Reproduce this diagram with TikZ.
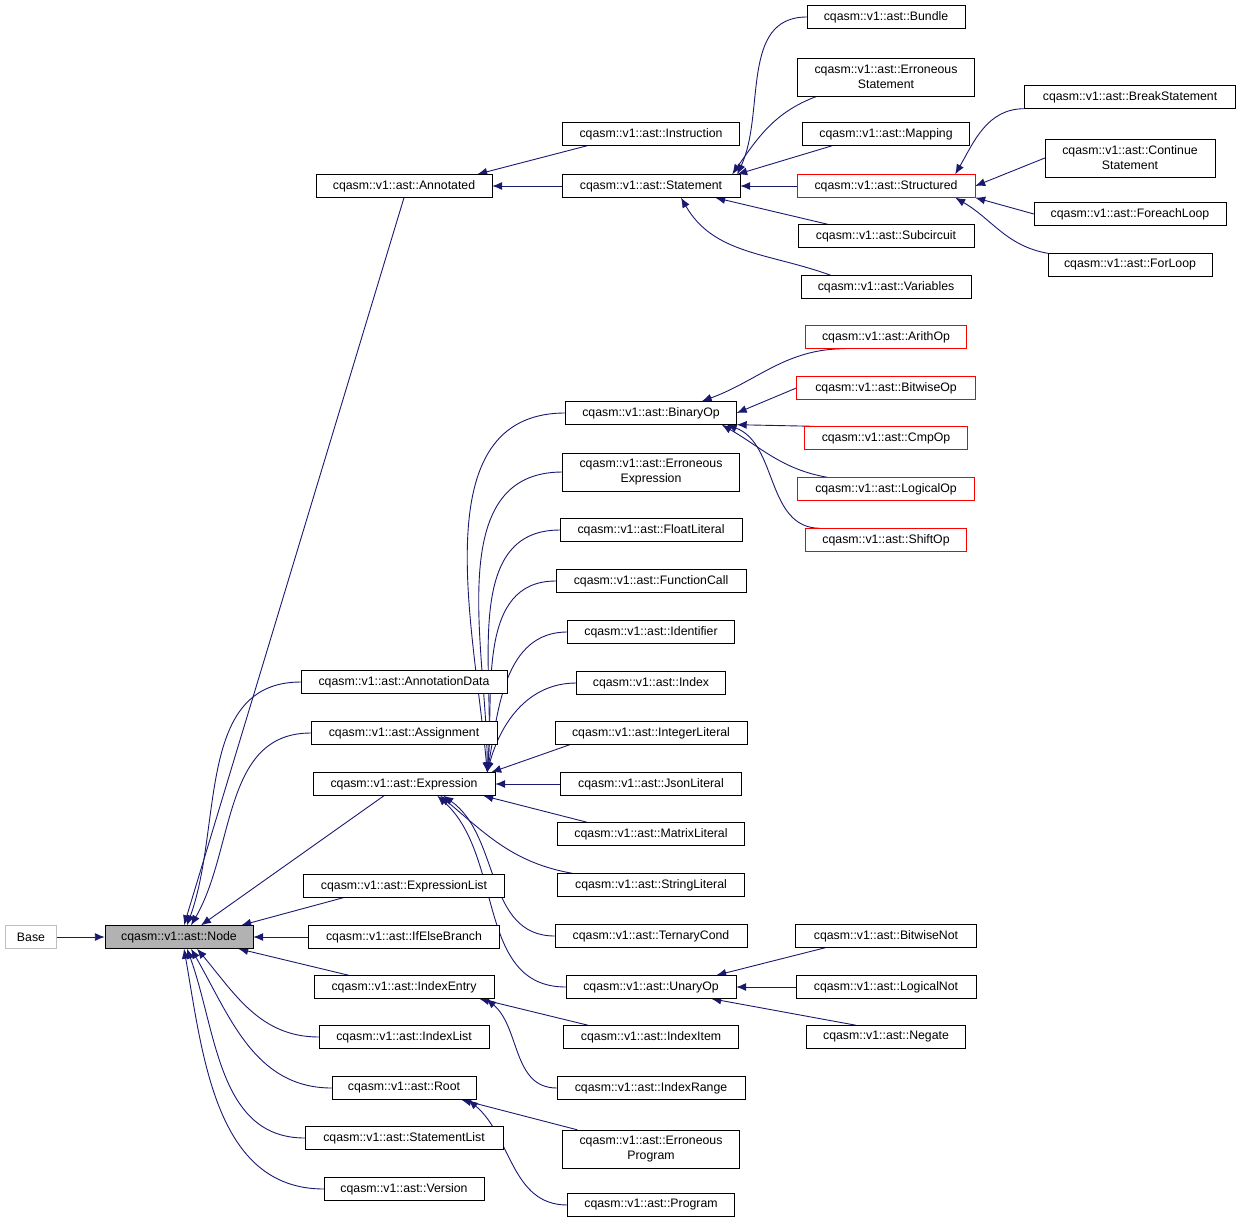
\documentclass[tikz,border=0pt]{standalone}
\usepackage{fontspec}
\setmainfont{Liberation Sans}
\usetikzlibrary{positioning,arrows.meta}
\pgfdeclarelayer{background}
\pgfsetlayers{background,main}
\definecolor{edgeblue}{RGB}{25,25,112}
\tikzset{
  cls/.style={draw,fill=white,rectangle,inner sep=0pt,minimum height=23pt,align=center,
    font=\fontsize{12.3}{15}\selectfont},
  ext/.style={cls,draw=red},
  root/.style={cls,fill=gray!60},
  base/.style={cls,draw=gray!50},
  inh/.style={{Latex[length=10pt,width=8pt]}-,draw=edgeblue,line width=0.9pt}
}
\begin{document}
\begin{tikzpicture}[x=1pt,y=-1pt]
  \useasboundingbox (0,0) rectangle (1241,1225);
  % first two columns
  \node (base) [base,minimum width=51pt] at (31,937) {Base};
  \node (node) [root,minimum width=148pt] at (179,937) {cqasm::v1::ast::Node};
  \node (annotated) [cls,minimum width=176pt] at (404,186) {cqasm::v1::ast::Annotated};
  \node (annodata) [cls,minimum width=206pt] at (404,682) {cqasm::v1::ast::AnnotationData};
  \node (assign) [cls,minimum width=186pt] at (404,733) {cqasm::v1::ast::Assignment};
  \node (expr) [cls,minimum width=182pt] at (404,784) {cqasm::v1::ast::Expression};
  \node (exprlist) [cls,minimum width=201pt] at (404,886) {cqasm::v1::ast::ExpressionList};
  \node (ifelse) [cls,minimum width=191pt] at (404,937) {cqasm::v1::ast::IfElseBranch};
  \node (idxentry) [cls,minimum width=180pt] at (404,987) {cqasm::v1::ast::IndexEntry};
  \node (idxlist) [cls,minimum width=170pt] at (404,1037) {cqasm::v1::ast::IndexList};
  \node (root) [cls,minimum width=144pt] at (404,1088) {cqasm::v1::ast::Root};
  \node (stmtlist) [cls,minimum width=198pt] at (404,1138) {cqasm::v1::ast::StatementList};
  \node (version) [cls,minimum width=160pt] at (404,1189) {cqasm::v1::ast::Version};
  % third column
  \node (instr) [cls,minimum width=177pt] at (651,134) {cqasm::v1::ast::Instruction};
  \node (stmt) [cls,minimum width=178pt] at (651,186) {cqasm::v1::ast::Statement};
  \node (binop) [cls,minimum width=171pt] at (651,413) {cqasm::v1::ast::BinaryOp};
  \node (errexpr) [cls,minimum width=177pt,minimum height=38pt] at (651,472) {cqasm::v1::ast::Erroneous\\Expression};
  \node (float) [cls,minimum width=182pt] at (651,530) {cqasm::v1::ast::FloatLiteral};
  \node (fcall) [cls,minimum width=190pt] at (651,581) {cqasm::v1::ast::FunctionCall};
  \node (ident) [cls,minimum width=167pt] at (651,632) {cqasm::v1::ast::Identifier};
  \node (index) [cls,minimum width=149pt] at (651,683) {cqasm::v1::ast::Index};
  \node (intlit) [cls,minimum width=192pt] at (651,733) {cqasm::v1::ast::IntegerLiteral};
  \node (json) [cls,minimum width=181pt] at (651,784) {cqasm::v1::ast::JsonLiteral};
  \node (matrix) [cls,minimum width=187pt] at (651,834) {cqasm::v1::ast::MatrixLiteral};
  \node (string) [cls,minimum width=187pt] at (651,885) {cqasm::v1::ast::StringLiteral};
  \node (ternary) [cls,minimum width=192pt] at (651,936) {cqasm::v1::ast::TernaryCond};
  \node (unop) [cls,minimum width=170pt] at (651,987) {cqasm::v1::ast::UnaryOp};
  \node (idxitem) [cls,minimum width=175pt] at (651,1037) {cqasm::v1::ast::IndexItem};
  \node (idxrange) [cls,minimum width=188pt] at (651,1088) {cqasm::v1::ast::IndexRange};
  \node (errprog) [cls,minimum width=177pt,minimum height=38pt] at (651,1149) {cqasm::v1::ast::Erroneous\\Program};
  \node (prog) [cls,minimum width=167pt] at (651,1205) {cqasm::v1::ast::Program};
  % fourth column
  \node (bundle) [cls,minimum width=158pt] at (886,17) {cqasm::v1::ast::Bundle};
  \node (errstmt) [cls,minimum width=177pt,minimum height=38pt] at (886,77) {cqasm::v1::ast::Erroneous\\Statement};
  \node (mapping) [cls,minimum width=167pt] at (886,134) {cqasm::v1::ast::Mapping};
  \node (struct) [ext,minimum width=178pt] at (886,186) {cqasm::v1::ast::Structured};
  \node (subcirc) [cls,minimum width=176pt] at (886,236) {cqasm::v1::ast::Subcircuit};
  \node (vars) [cls,minimum width=170pt] at (886,287) {cqasm::v1::ast::Variables};
  \node (arith) [ext,minimum width=161pt] at (886,337) {cqasm::v1::ast::ArithOp};
  \node (bitop) [ext,minimum width=179pt] at (886,388) {cqasm::v1::ast::BitwiseOp};
  \node (cmp) [ext,minimum width=163pt] at (886,438) {cqasm::v1::ast::CmpOp};
  \node (logop) [ext,minimum width=177pt] at (886,489) {cqasm::v1::ast::LogicalOp};
  \node (shift) [ext,minimum width=161pt] at (886,540) {cqasm::v1::ast::ShiftOp};
  \node (bitnot) [cls,minimum width=181pt] at (886,936) {cqasm::v1::ast::BitwiseNot};
  \node (lognot) [cls,minimum width=180pt] at (886,987) {cqasm::v1::ast::LogicalNot};
  \node (negate) [cls,minimum width=159pt] at (886,1037) {cqasm::v1::ast::Negate};
  % fifth column
  \node (break) [cls,minimum width=211pt] at (1130,97) {cqasm::v1::ast::BreakStatement};
  \node (cont) [cls,minimum width=170pt,minimum height=38pt] at (1130,158) {cqasm::v1::ast::Continue\\Statement};
  \node (foreach) [cls,minimum width=192pt] at (1130,214) {cqasm::v1::ast::ForeachLoop};
  \node (forloop) [cls,minimum width=164pt] at (1130,265) {cqasm::v1::ast::ForLoop};

  \begin{pgfonlayer}{background}
  % inheritance of Node
  \draw [inh] (node) -- (base);
  \draw [inh] ([xshift=5pt]node.north) -- (annotated.south);
  \draw [inh] ([xshift=8pt]node.north) to [out=70,in=180] (annodata.west);
  \draw [inh] ([xshift=12pt]node.north) to [out=60,in=180] (assign.west);
  \draw [inh] ([xshift=22pt]node.north) -- ([xshift=-20pt]expr.south);
  \draw [inh] ([xshift=-12pt]node.north east) -- ([xshift=40pt]exprlist.south west);
  \draw [inh] (node) -- (ifelse);
  \draw [inh] ([xshift=-15pt]node.south east) -- ([xshift=35pt]idxentry.north west);
  \draw [inh] ([xshift=18pt]node.south) to [out=-50,in=180] (idxlist.west);
  \draw [inh] ([xshift=12pt]node.south) to [out=-60,in=180] (root.west);
  \draw [inh] ([xshift=8pt]node.south) to [out=-70,in=180] (stmtlist.west);
  \draw [inh] ([xshift=5pt]node.south) to [out=-80,in=180] (version.west);

  % Annotated and Statement
  \draw [inh] ([xshift=-15pt]annotated.north east) -- ([xshift=25pt]instr.south west);
  \draw [inh] (annotated) -- (stmt);
  \draw [inh] ([xshift=-3pt]stmt.north east) to [out=65,in=180] (bundle.west);
  \draw [inh] ([xshift=-8pt]stmt.north east) to [out=55,in=200] ([xshift=20pt]errstmt.south west);
  \draw [inh] ([xshift=-3pt]stmt.north east) -- ([xshift=30pt]mapping.south west);
  \draw [inh] (stmt) -- (struct);
  \draw [inh] ([xshift=-25pt]stmt.south east) -- ([xshift=30pt]subcirc.north west);
  \draw [inh] ([xshift=30pt]stmt.south) to [out=-60,in=160] ([xshift=30pt]vars.north west);
  \draw [inh] ([xshift=-20pt]struct.north east) to [out=60,in=180] (break.south west);
  \draw [inh] (struct.east) -- (cont.west);
  \draw [inh] (struct.south east) -- (foreach.west);
  \draw [inh] ([xshift=-20pt]struct.south east) to [out=-30,in=170] (forloop.north west);

  % Expression
  \foreach \c/\o in {binop/95,errexpr/90,float/85,fcall/85,ident/80,index/75} {
    \draw [inh] ([xshift=-8pt]expr.north east) to [out=\o,in=180] (\c.west);
  }
  \draw [inh] ([xshift=-4pt]expr.north east) -- ([xshift=15pt]intlit.south west);
  \draw [inh] (expr) -- (json);
  \draw [inh] ([xshift=-12pt]expr.south east) -- ([xshift=30pt]matrix.north west);
  \draw [inh] ([xshift=-55pt]expr.south east) to [out=-40,in=170] ([xshift=15pt]string.north west);
  \draw [inh] ([xshift=-52pt]expr.south east) to [out=-35,in=180] (ternary.west);
  \draw [inh] ([xshift=-58pt]expr.south east) to [out=-42,in=180] (unop.west);
  \draw [inh] ([xshift=-35pt]binop.north east) to [out=20,in=180] ([xshift=40pt]arith.south west);
  \draw [inh] (binop.east) -- (bitop.west);
  \draw [inh] (binop.south east) -- ([xshift=10pt]cmp.north west);
  \draw [inh] ([xshift=-15pt]binop.south east) to [out=-30,in=170] ([xshift=30pt]logop.north west);
  \draw [inh] ([xshift=-10pt]binop.south east) to [out=-20,in=180] ([xshift=15pt]shift.north west);
  \draw [inh] ([xshift=-20pt]unop.north east) -- ([xshift=30pt]bitnot.south west);
  \draw [inh] (unop) -- (lognot);
  \draw [inh] ([xshift=-25pt]unop.south east) -- ([xshift=50pt]negate.north west);

  % IndexEntry and Root
  \draw [inh] ([xshift=-15pt]idxentry.south east) -- ([xshift=25pt]idxitem.north west);
  \draw [inh] ([xshift=-8pt]idxentry.south east) to [out=-40,in=180] (idxrange.west);
  \draw [inh] ([xshift=-15pt]root.south east) -- ([xshift=15pt]errprog.north west);
  \draw [inh] ([xshift=-8pt]root.south east) to [out=-40,in=180] (prog.west);
  \end{pgfonlayer}
\end{tikzpicture}
\end{document}
